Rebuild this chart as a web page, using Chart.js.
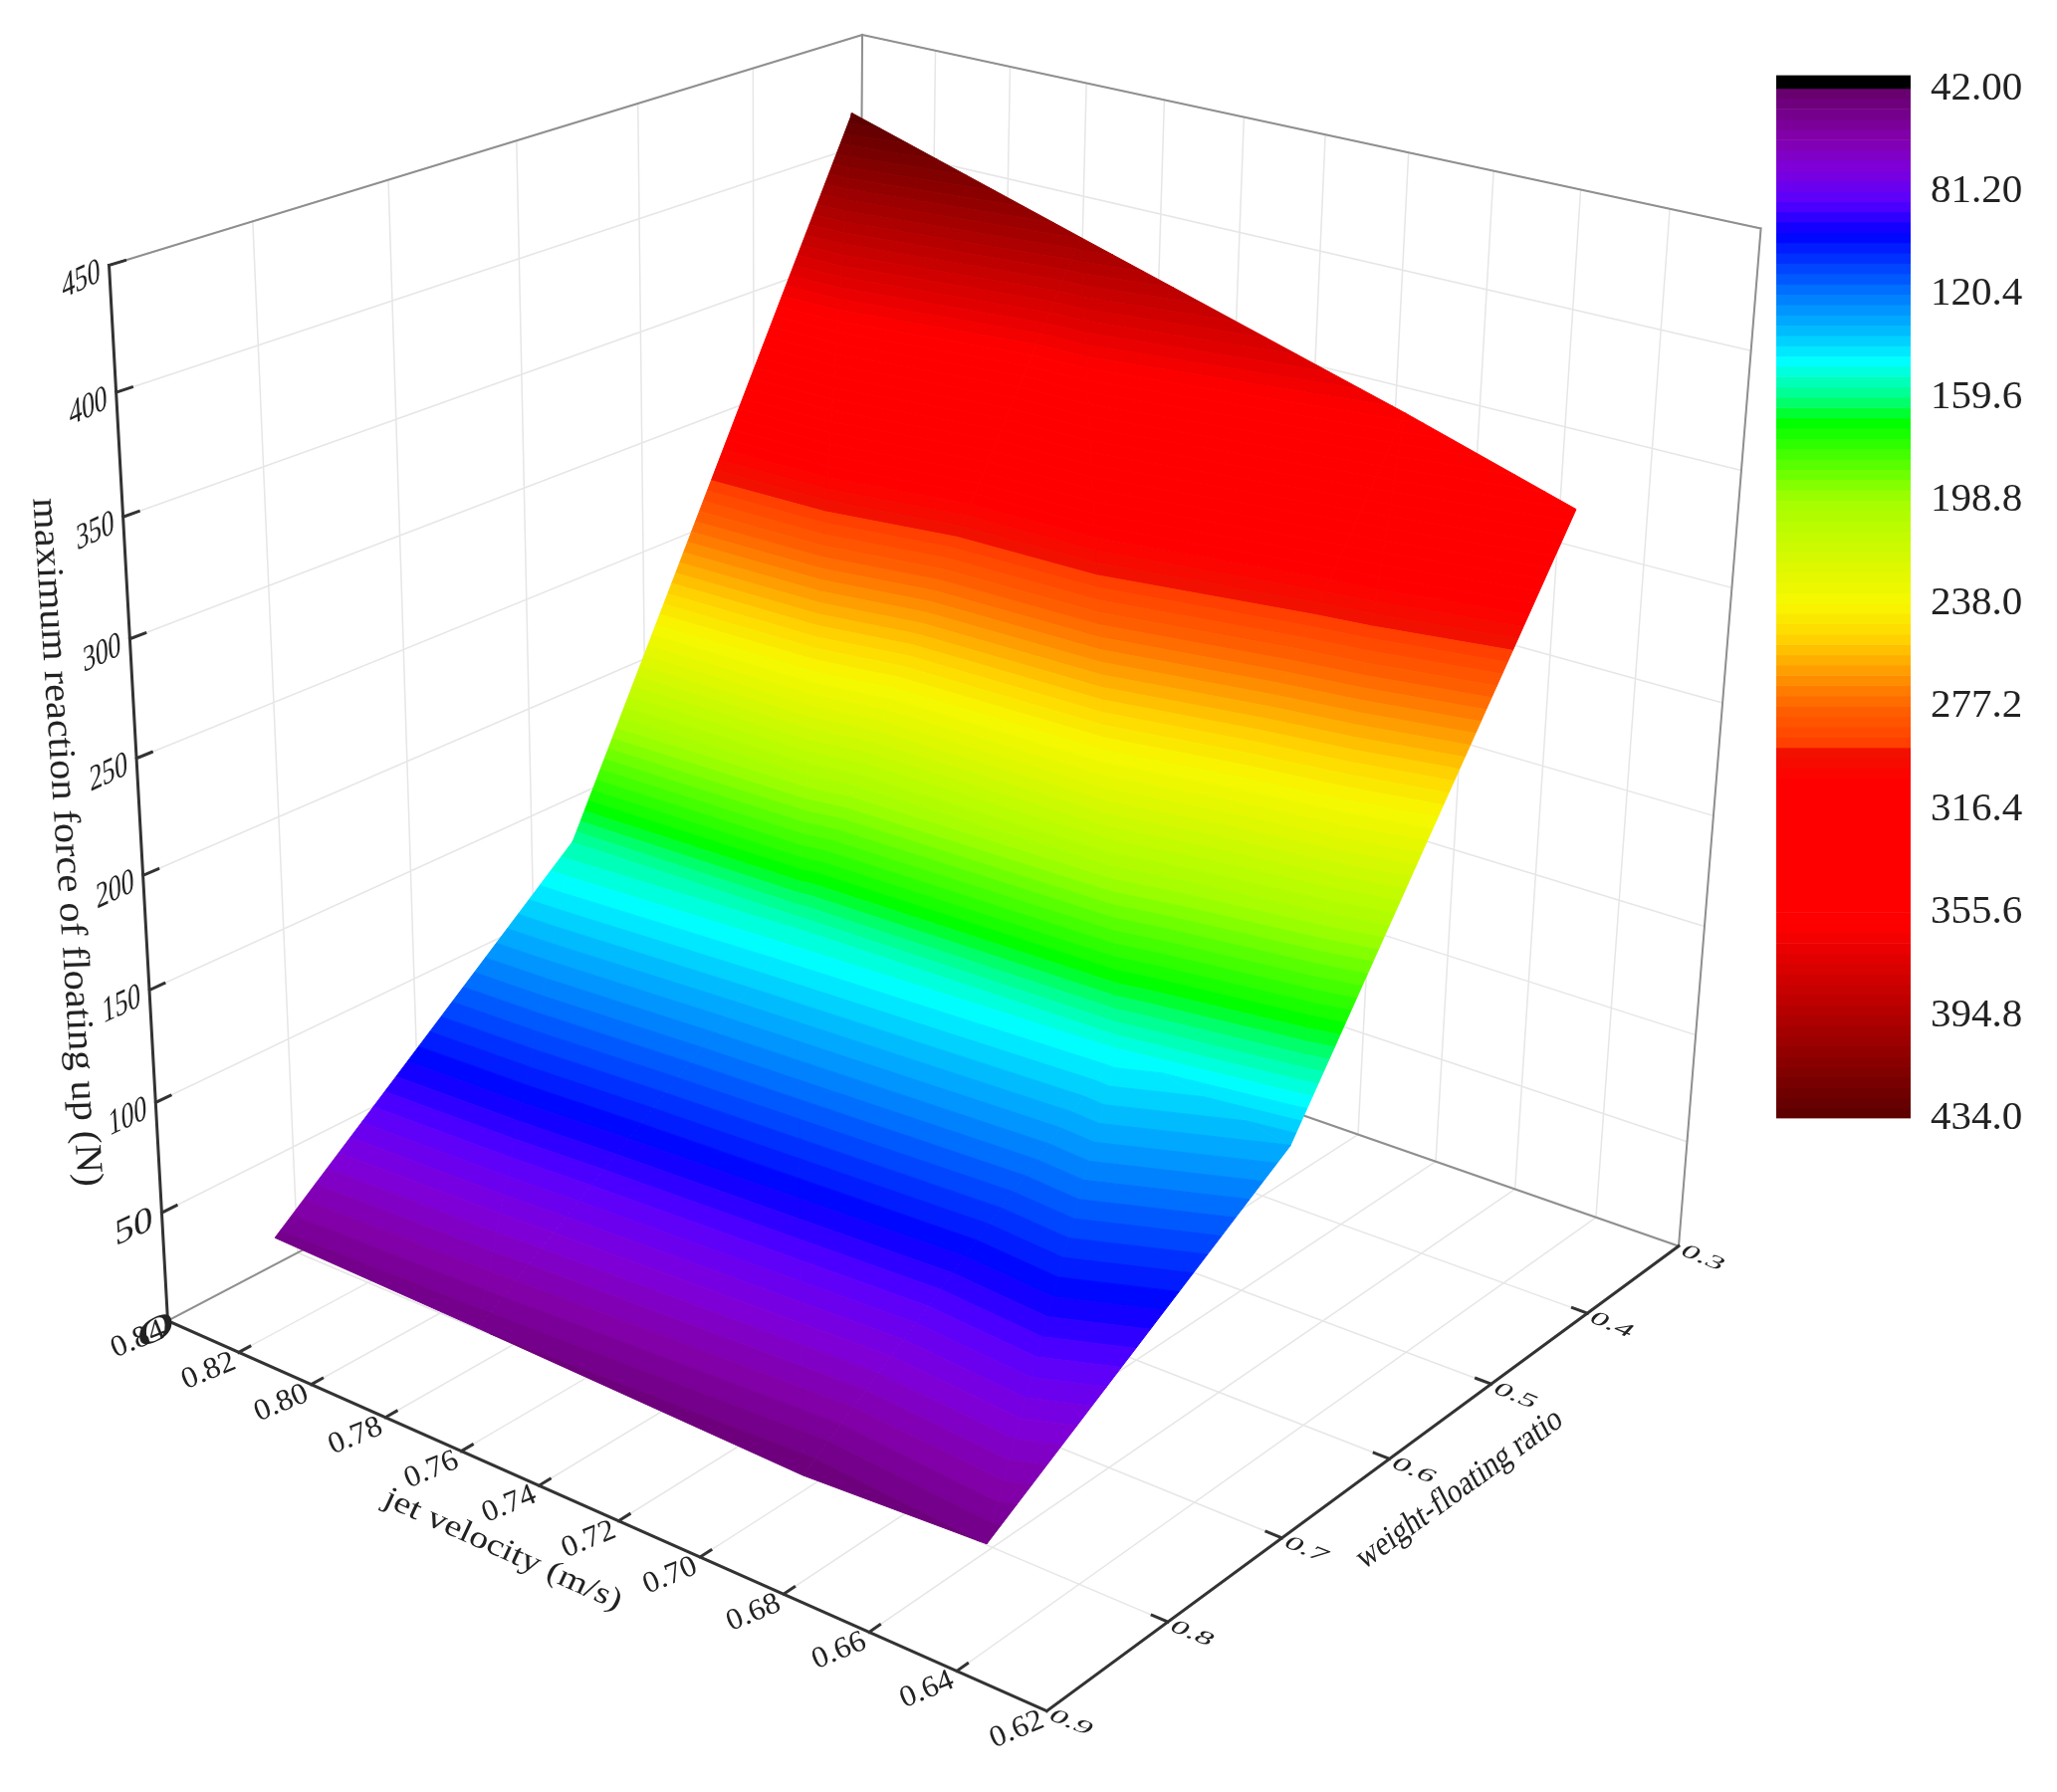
<!DOCTYPE html>
<html>
<head>
<meta charset="utf-8">
<title>maximum reaction force of floating up</title>
<script src="https://cdn.jsdelivr.net/npm/chart.js@4"></script>
<style>
  html,body{margin:0;padding:0;background:#fff;}
  #wrap{position:relative;width:2066px;height:1800px;overflow:hidden;}
  #surface{position:absolute;left:0;top:0;}
  #colorbar{position:absolute;left:1784px;top:39px;}
</style>
</head>
<body>
<div id="wrap">
  <canvas id="surface" width="2066" height="1800"></canvas>
  <canvas id="colorbar" width="282" height="1121"></canvas>
</div>
<script>
// axis ticks
const jetTicks = [0.84,0.82,0.80,0.78,0.76,0.74,0.72,0.70,0.68,0.66,0.64,0.62];
const weightTicks = [0.9,0.8,0.7,0.6,0.5,0.4,0.3];
const forceTicks = [0,50,100,150,200,250,300,350,400,450];
const colorbarTicks = [42,81.2,120.4,159.6,198.8,238,277.2,316.4,355.6,394.8,434];
const colorbarLabels = ['42.00','81.20','120.4','159.6','198.8','238.0','277.2','316.4','355.6','394.8','434.0'];

// surface mesh
const surfaceWeight = [0.885,0.625,0.377];
const jetAtW90 = [0.814,0.76,0.68,0.638];
const jetAtW60 = [0.82,0.76,0.68,0.64];
const jetAtW37 = [0.82,0.76,0.68,0.64];
const forceAtW90 = [52,50,46,50];
const forceAtW60 = [156,152,148,132];
const forceAtW37 = [434,403,362,340];
const jetRows = [jetAtW90,jetAtW60,jetAtW37];
const forceRows = [forceAtW90,forceAtW60,forceAtW37];

// colour map (force value -> colour)
const rampValues = [42,60,72,85,97.5,120.4,135,146,160,169,198.8,225,238,250,277,291,292,305,360,434];
const rampColors = ['#660068','#8200a8','#7f00d8','#5a00ff','#0000ff','#0078ff','#00c0ff','#00ffff','#00ff80','#00ff00','#a4ff00','#e0f800','#f8f800','#ffd800','#ff6400','#ff4000','#ee1400','#ff0000','#ff0000','#5a0000'];
const levelStep = 3.92;
const levelCount = 100;

const SERIF = '"Liberation Serif"';

function hexRgb(h){ return [1,3,5].map(i=>parseInt(h.substr(i,2),16)); }
function bandColor(v){
  let i = 0;
  while(i<rampValues.length-2 && v>rampValues[i+1]) i++;
  const f = Math.min(1,Math.max(0,(v-rampValues[i])/(rampValues[i+1]-rampValues[i])));
  const a = hexRgb(rampColors[i]), b = hexRgb(rampColors[i+1]);
  return 'rgb('+a.map((c,k)=>Math.round(c+(b[k]-c)*f)).join(',')+')';
}

// box normalised: u along jet (0.84->0.62), v along ratio (0.9->0.3), t along force (0->450)
const uOf = j => (0.84-j)/0.22;
const vOf = w => (0.9-w)/0.6;
const tOf = z => z/450;

// where the box corners sit in the page, camera is fitted to them
const boxAnchors = [
  [0,0,0,167,1325],[1,0,0,1051.5,1720],[1,1,0,1685,1250],[0,1,0,862,966],
  [0,0,1,111,267],[0,1,1,864,34],[1,1,1,1769.5,230]
];
function fitCamera(pts){
  const A=[],B=[];
  pts.forEach(([u,v,t,x,y])=>{
    A.push([u,v,t,1,0,0,0,0,-x*u,-x*v,-x*t]); B.push(x);
    A.push([0,0,0,0,u,v,t,1,-y*u,-y*v,-y*t]); B.push(y);
  });
  const n=11, M=[];
  for(let i=0;i<n;i++){
    M.push([]);
    for(let j=0;j<n;j++){ let s=0; A.forEach(r=>s+=r[i]*r[j]); M[i].push(s); }
    let s=0; A.forEach((r,k)=>s+=r[i]*B[k]); M[i].push(s);
  }
  for(let c=0;c<n;c++){
    let p=c; for(let r=c+1;r<n;r++) if(Math.abs(M[r][c])>Math.abs(M[p][c])) p=r;
    [M[c],M[p]]=[M[p],M[c]];
    for(let r=0;r<n;r++){
      if(r===c) continue;
      const f=M[r][c]/M[c][c];
      for(let k=c;k<=n;k++) M[r][k]-=f*M[c][k];
    }
  }
  return M.map((r,i)=>r[n]/r[i]);
}
const cam = fitCamera(boxAnchors);
function project(u,v,t){
  const d = cam[8]*u+cam[9]*v+cam[10]*t+1;
  return {x:(cam[0]*u+cam[1]*v+cam[2]*t+cam[3])/d, y:(cam[4]*u+cam[5]*v+cam[6]*t+cam[7])/d};
}

// polyline helper, NaN point breaks the line
const GAP = {x:NaN,y:NaN};
function seg(list,a,b){ list.push(project(...a),project(...b),GAP); }

const gridPts=[], framePts=[], axisPts=[];
jetTicks.forEach(j=>{
  const u=uOf(j);
  seg(gridPts,[u,0,0],[u,1,0]);
  seg(gridPts,[u,1,0],[u,1,1]);
  if(j<0.84 && j>0.62) seg(axisPts,[u,0,0],[u,0.014,0]);
});
weightTicks.forEach(w=>{
  const v=vOf(w);
  seg(gridPts,[0,v,0],[1,v,0]);
  seg(gridPts,[0,v,0],[0,v,1]);
  if(w<0.9 && w>0.3) seg(axisPts,[1,v,0],[0.984,v,0]);
});
forceTicks.forEach(z=>{
  const t=tOf(z);
  seg(gridPts,[0,0,t],[0,1,t]);
  seg(gridPts,[0,1,t],[1,1,t]);
  if(z>0) seg(axisPts,[0,0,t],[0,0.018,t]);
});
// box outline
seg(framePts,[0,0,1],[0,1,1]); seg(framePts,[0,1,1],[1,1,1]);
seg(framePts,[0,1,0],[0,1,1]); seg(framePts,[1,1,0],[1,1,1]);
seg(framePts,[0,0,0],[0,1,0]); seg(framePts,[0,1,0],[1,1,0]);
// the three dark axes
seg(axisPts,[0,0,0],[0,0,1]); seg(axisPts,[0,0,0],[1,0,0]); seg(axisPts,[1,0,0],[1,1,0]);

function lineSet(data,color,width,order){
  return {type:'scatter',data,showLine:true,borderColor:color,borderWidth:width,pointRadius:0,fill:false,order,borderCapStyle:'square'};
}

// clip a triangle of the mesh to a force band
function clipAbove(poly,lim,sign){
  const out=[];
  poly.forEach((p,i)=>{
    const q=poly[(i+1)%poly.length];
    const pi=sign*(p[2]-lim)>=0, qi=sign*(q[2]-lim)>=0;
    if(pi) out.push(p);
    if(pi!==qi){
      const f=(lim-p[2])/(q[2]-p[2]);
      out.push([p[0]+(q[0]-p[0])*f,p[1]+(q[1]-p[1])*f,lim]);
    }
  });
  return out;
}
const surfaceSets=[];
function addTriangle(tri){
  for(let k=-1;k<levelCount;k++){
    const lo = k<0 ? -Infinity : 42+levelStep*k;
    const hi = k<0 ? 42 : 42+levelStep*(k+1);
    let poly = tri;
    if(lo>-Infinity) poly = clipAbove(poly,lo,1);
    if(poly.length>2) poly = clipAbove(poly,hi,-1);
    if(poly.length<3) continue;
    const c = k<0 ? '#000' : bandColor((lo+hi)/2);
    const pts = poly.map(p=>project(p[0],p[1],tOf(p[2])));
    pts.push(pts[0]);
    surfaceSets.push({type:'scatter',data:pts,showLine:true,fill:'shape',backgroundColor:c,borderColor:c,borderWidth:1,pointRadius:0,order:1});
  }
}
for(let r=0;r<surfaceWeight.length-1;r++){
  for(let c=0;c<jetAtW60.length-1;c++){
    const node=(ri,ci)=>[uOf(jetRows[ri][ci]),vOf(surfaceWeight[ri]),forceRows[ri][ci]];
    addTriangle([node(r,c),node(r,c+1),node(r+1,c)]);
    addTriangle([node(r,c+1),node(r+1,c+1),node(r+1,c)]);
  }
}

// skewed text: base is the baseline direction, up the direction of the glyph tops
function skewText(ch,str,x,y,size,base,up,width){
  const ctx=ch.ctx;
  const px=ch.scales.x.getPixelForValue(x), py=ch.scales.y.getPixelForValue(y);
  ctx.save();
  ctx.font=size+'px '+SERIF;
  ctx.fillStyle='#222';
  ctx.textAlign='center';
  ctx.textBaseline='middle';
  const k = width ? width/ctx.measureText(str).width : 1;
  const bl=Math.hypot(base[0],base[1]);
  ctx.transform(base[0]/bl*k,base[1]/bl*k,-up[0],-up[1],px,py);
  ctx.fillText(str,0,0);
  ctx.restore();
}
const axisText = {
  id:'axisText',
  afterDatasetsDraw(ch){
    forceTicks.forEach(z=>{
      const p=project(0,0,tOf(z));
      const off = z===0 ? [-12,11] : [-28,15];
      skewText(ch,String(z),p.x+off[0],p.y+off[1],38,[0.9,-0.42],[-0.06,-0.95],42);
    });
    jetTicks.forEach(j=>{
      const p=project(uOf(j),0,0);
      skewText(ch,j.toFixed(2),p.x-30,p.y+19,33,[0.92,-0.38],[-0.35,-0.85],56);
    });
    weightTicks.forEach(w=>{
      const p=project(1,vOf(w),0);
      skewText(ch,w.toFixed(1),p.x+24,p.y+12,26,[0.93,0.38],[0.55,-0.6],44);
    });
    skewText(ch,'maximum reaction force of floating up (N)',66,846,38,[0.066,0.998],[0.998,-0.03],693);
    skewText(ch,'jet velocity (m/s)',505,1557,33,[0.91,0.41],[0.4,-0.85],259);
    skewText(ch,'weight-floating ratio',1466,1496,36,[0.81,-0.59],[-0.45,-0.85],249);
  }
};

new Chart(document.getElementById('surface'),{
  data:{datasets:[
    lineSet(axisPts,'#333',3,0),
    ...surfaceSets,
    lineSet(framePts,'#8f8f8f',2,2),
    lineSet(gridPts,'#e6e6e6',1.5,3)
  ]},
  options:{
    responsive:false, animation:false, devicePixelRatio:1,
    layout:{padding:0},
    plugins:{legend:{display:false},tooltip:{enabled:false}},
    scales:{
      x:{type:'linear',min:0,max:2066,display:false},
      y:{type:'linear',min:0,max:1800,reverse:true,display:false}
    }
  },
  plugins:[axisText]
});

// colour bar
const barSets=[{data:[[37,42]],backgroundColor:'#000'}];
for(let k=0;k<levelCount;k++){
  const lo=42+levelStep*k, hi=lo+levelStep;
  barSets.push({data:[[lo,hi]],backgroundColor:bandColor((lo+hi)/2)});
}
new Chart(document.getElementById('colorbar'),{
  type:'bar',
  data:{labels:['force'],datasets:barSets.map(d=>Object.assign(d,{barPercentage:1,categoryPercentage:1,grouped:false,borderWidth:0}))},
  options:{
    responsive:false, animation:false, devicePixelRatio:1,
    layout:{padding:{top:30,bottom:30,left:0,right:0}},
    plugins:{legend:{display:false},tooltip:{enabled:false}},
    scales:{
      x:{display:false},
      y:{
        type:'linear',position:'right',reverse:true,min:37,max:434,
        afterBuildTicks(s){ s.ticks=colorbarTicks.map(v=>({value:v})); },
        afterFit(s){ s.width=147; },
        grid:{display:false},border:{display:false},
        ticks:{
          padding:12,color:'#222',font:{family:SERIF,size:41},autoSkip:false,
          callback:(v,i)=>colorbarLabels[i]
        }
      }
    }
  }
});
</script>
</body>
</html>
